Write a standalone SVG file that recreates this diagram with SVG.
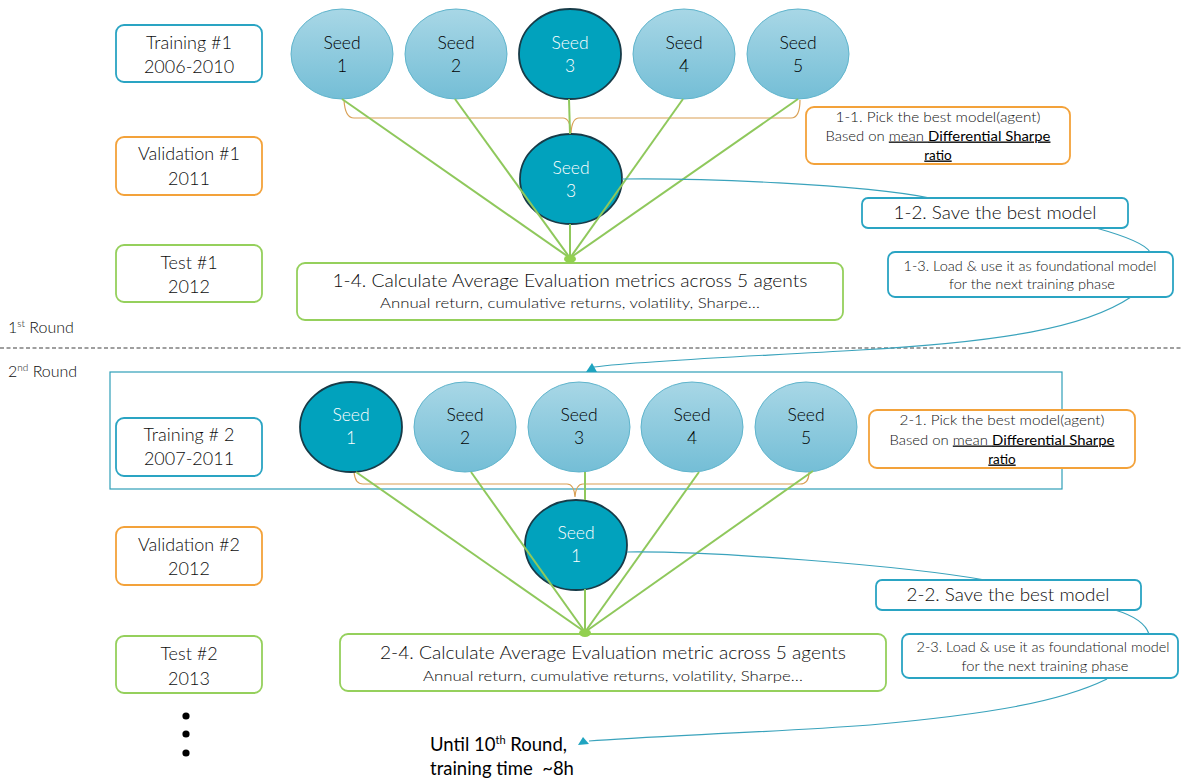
<svg xmlns="http://www.w3.org/2000/svg" width="1181" height="778" viewBox="0 0 1181 778">
<defs>
<linearGradient id="gL" x1="0" y1="0" x2="0" y2="1">
<stop offset="0" stop-color="#a8d7e6"/>
<stop offset="1" stop-color="#74bed6"/>
</linearGradient>
</defs>
<style>
text{font-family:Lato,"Liberation Sans",sans-serif;font-weight:300}
.lbl{font-size:18px;fill:#0d0d0d;text-anchor:middle}
.box{fill:#fff;stroke-width:1.8}
.teal{stroke:#2aa4c3}
.orange{stroke:#f3a23a}
.green{stroke:#95d05c}
.seedL{fill:url(#gL);stroke:#5fb4cc;stroke-width:1}
.seedD{fill:#01a2bd;stroke:#173b48;stroke-width:1.8}
.st{font-size:17.5px;text-anchor:middle;fill:#000}
.stD{font-size:17.5px;text-anchor:middle;fill:#ffffff}
.small{font-size:13.5px;fill:#111;text-anchor:middle}
.gl{stroke:#8fc85c;stroke-width:2;fill:none}
.brace{stroke:#d9a055;stroke-width:1.2;fill:none}
.conn{stroke:#3aa3bc;stroke-width:1.2;fill:none}
.arr{fill:#1fa4c0}
.u{text-decoration:underline}
.b{fill:#000;font-weight:400}
.reg{font-weight:400}
.big{fill:#0d0d0d}
</style>

<!-- round separator -->
<g id="separator">
<line x1="0" y1="348" x2="1181" y2="348" stroke="#808080" stroke-width="1.5" stroke-dasharray="4 2.5"/>
<text x="8" y="333" font-size="16" fill="#0d0d0d">1<tspan font-size="10" dy="-6">st</tspan><tspan dy="6"> Round</tspan></text>
<text x="8" y="377" font-size="16" fill="#0d0d0d">2<tspan font-size="10" dy="-6">nd</tspan><tspan dy="6"> Round</tspan></text>
</g>

<g id="round2-frame">
<rect x="110" y="372" width="952" height="117" fill="none" stroke="#2f9fb8" stroke-width="1.2"/>
</g>

<!-- left labels -->
<g id="training1"><rect class="box teal" x="116" y="25" width="146" height="57" rx="8"/><text class="lbl" x="189" y="49">Training #1</text><text class="lbl" x="189" y="73">2006-2010</text></g>
<g id="validation1"><rect class="box orange" x="116" y="137" width="146" height="58" rx="8"/><text class="lbl" x="189" y="160">Validation #1</text><text class="lbl" x="189" y="185">2011</text></g>
<g id="test1"><rect class="box green" x="116" y="245" width="146" height="57" rx="8"/><text class="lbl" x="189" y="269">Test #1</text><text class="lbl" x="189" y="293">2012</text></g>
<g id="training2"><rect class="box teal" x="116" y="418" width="146" height="58" rx="8"/><text class="lbl" x="189" y="441">Training # 2</text><text class="lbl" x="189" y="465">2007-2011</text></g>
<g id="validation2"><rect class="box orange" x="116" y="527" width="146" height="58" rx="8"/><text class="lbl" x="189" y="551">Validation #2</text><text class="lbl" x="189" y="575">2012</text></g>
<g id="test2"><rect class="box green" x="116" y="636" width="146" height="57" rx="8"/><text class="lbl" x="189" y="660">Test #2</text><text class="lbl" x="189" y="685">2013</text></g>

<!-- braces -->
<g id="braces">
<path class="brace" d="M344,100 Q345,118 354,118 L563,118 Q570,118 571,133 Q572,118 579,118 L791,118 Q800,118 800,100"/>
<path class="brace" d="M354,472 Q355,484 363,484 L567,484 Q574,484 575,497 Q576,484 583,484 L800,484 Q809,484 809,472"/>
</g>

<!-- row 1 seeds -->
<g id="r1-seed1"><ellipse class="seedL" cx="342" cy="54" rx="51" ry="45"/><text class="st" x="342" y="49">Seed</text><text class="st" x="342" y="72">1</text></g>
<g id="r1-seed2"><ellipse class="seedL" cx="456" cy="54" rx="51" ry="45"/><text class="st" x="456" y="49">Seed</text><text class="st" x="456" y="72">2</text></g>
<g id="r1-seed3"><ellipse class="seedD" cx="570" cy="54" rx="51" ry="45"/><text class="stD" x="570" y="49">Seed</text><text class="stD" x="570" y="72">3</text></g>
<g id="r1-seed4"><ellipse class="seedL" cx="684" cy="54" rx="51" ry="45"/><text class="st" x="684" y="49">Seed</text><text class="st" x="684" y="72">4</text></g>
<g id="r1-seed5"><ellipse class="seedL" cx="798" cy="54" rx="51" ry="45"/><text class="st" x="798" y="49">Seed</text><text class="st" x="798" y="72">5</text></g>
<g id="r1-best"><ellipse class="seedD" cx="571" cy="179" rx="51" ry="45"/><text class="stD" x="571" y="174">Seed</text><text class="stD" x="571" y="197">3</text></g>

<!-- row 2 seeds -->
<g id="r2-seed1"><ellipse class="seedD" cx="351" cy="427" rx="51" ry="45"/><text class="stD" x="351" y="421">Seed</text><text class="stD" x="351" y="444">1</text></g>
<g id="r2-seed2"><ellipse class="seedL" cx="465" cy="427" rx="51" ry="45"/><text class="st" x="465" y="421">Seed</text><text class="st" x="465" y="444">2</text></g>
<g id="r2-seed3"><ellipse class="seedL" cx="579" cy="427" rx="51" ry="45"/><text class="st" x="579" y="421">Seed</text><text class="st" x="579" y="444">3</text></g>
<g id="r2-seed4"><ellipse class="seedL" cx="692" cy="427" rx="51" ry="45"/><text class="st" x="692" y="421">Seed</text><text class="st" x="692" y="444">4</text></g>
<g id="r2-seed5"><ellipse class="seedL" cx="806" cy="427" rx="51" ry="45"/><text class="st" x="806" y="421">Seed</text><text class="st" x="806" y="444">5</text></g>
<g id="r2-best"><ellipse class="seedD" cx="576" cy="545" rx="51" ry="45"/><text class="stD" x="576" y="539">Seed</text><text class="stD" x="576" y="562">1</text></g>

<!-- process boxes -->
<g id="step1-4"><rect class="box green" x="297" y="263" width="546" height="57" rx="8"/>
<text class="big" x="570" y="287" font-size="18" text-anchor="middle" textLength="475" lengthAdjust="spacingAndGlyphs">1-4. Calculate Average Evaluation metrics across 5 agents</text>
<text class="big" x="570" y="308" font-size="14.5" text-anchor="middle" textLength="380" lengthAdjust="spacingAndGlyphs">Annual return, cumulative returns, volatility, Sharpe…</text></g>
<g id="step2-4"><rect class="box green" x="340" y="634" width="546" height="57" rx="8"/>
<text class="big" x="613" y="659" font-size="18" text-anchor="middle" textLength="466" lengthAdjust="spacingAndGlyphs">2-4. Calculate Average Evaluation metric across 5 agents</text>
<text class="big" x="613" y="681" font-size="14.5" text-anchor="middle" textLength="380" lengthAdjust="spacingAndGlyphs">Annual return, cumulative returns, volatility, Sharpe…</text></g>

<g id="step1-1"><rect class="box orange" x="806" y="107" width="264" height="57" rx="8"/>
<text class="small" x="938" y="121.5" textLength="205" lengthAdjust="spacingAndGlyphs">1-1. Pick the best model(agent)</text>
<text class="small" x="938" y="140.5" textLength="225" lengthAdjust="spacingAndGlyphs">Based on <tspan class="u">mean </tspan><tspan class="u b">Differential Sharpe</tspan></text>
<text class="small b u" x="938" y="159.5">ratio</text></g>
<g id="step2-1"><rect class="box orange" x="869" y="410" width="266" height="58" rx="8"/>
<text class="small" x="1002" y="424.5" textLength="205" lengthAdjust="spacingAndGlyphs">2-1. Pick the best model(agent)</text>
<text class="small" x="1002" y="444.5" textLength="225" lengthAdjust="spacingAndGlyphs">Based on <tspan class="u">mean </tspan><tspan class="u b">Differential Sharpe</tspan></text>
<text class="small b u" x="1002" y="463.5">ratio</text></g>

<g id="step1-2"><rect class="box teal" x="862" y="198" width="266" height="30" rx="6"/>
<text class="big" x="995" y="219" font-size="18" text-anchor="middle" textLength="203" lengthAdjust="spacingAndGlyphs">1-2. Save the best model</text></g>
<g id="step2-2"><rect class="box teal" x="876" y="580" width="265" height="30" rx="6"/>
<text class="big" x="1008" y="601" font-size="18" text-anchor="middle" textLength="203" lengthAdjust="spacingAndGlyphs">2-2. Save the best model</text></g>

<g id="step1-3"><rect class="box teal" x="888" y="252" width="285" height="45" rx="7"/>
<text class="small" x="1030" y="270.5" textLength="253" lengthAdjust="spacingAndGlyphs">1-3. Load &amp; use it as foundational model</text>
<text class="small" x="1032" y="288.5" textLength="166" lengthAdjust="spacingAndGlyphs">for the next training phase</text></g>
<g id="step2-3"><rect class="box teal" x="902" y="634" width="276" height="44" rx="7"/>
<text class="small" x="1043" y="651.5" textLength="253" lengthAdjust="spacingAndGlyphs">2-3. Load &amp; use it as foundational model</text>
<text class="small" x="1045" y="670.5" textLength="167" lengthAdjust="spacingAndGlyphs">for the next training phase</text></g>

<!-- connectors -->
<g id="connectors">
<line class="gl" x1="342" y1="99" x2="570" y2="258"/>
<line class="gl" x1="455" y1="99" x2="570" y2="258"/>
<line class="gl" x1="569" y1="99" x2="570" y2="134"/>
<line class="gl" x1="570" y1="224" x2="570" y2="258"/>
<line class="gl" x1="683" y1="99" x2="570" y2="258"/>
<line class="gl" x1="798" y1="99" x2="570" y2="258"/>
<ellipse cx="570" cy="259" rx="6" ry="4" fill="#92d050"/>

<line class="gl" x1="356" y1="472" x2="585" y2="632"/>
<line class="gl" x1="471" y1="472" x2="585" y2="632"/>
<line class="gl" x1="585" y1="472" x2="585" y2="500"/>
<line class="gl" x1="585" y1="589" x2="585" y2="632"/>
<line class="gl" x1="699" y1="472" x2="585" y2="632"/>
<line class="gl" x1="813" y1="471" x2="585" y2="632"/>
<ellipse cx="585" cy="633" rx="6" ry="4" fill="#92d050"/>

<path class="conn" d="M622,179 C700,178 860,184 930,198"/>
<path class="conn" d="M1096,228 C1125,236 1145,244 1150,252"/>
<path class="conn" d="M1131,297 C1085,328 1000,342 860,350 C760,356 650,360 594,367"/>
<polygon class="arr" points="586,372 597,372 592,363"/>

<path class="conn" d="M627,552 C710,551 900,565 985,580"/>
<path class="conn" d="M1115,610 C1135,616 1146,625 1149,634"/>
<path class="conn" d="M1107,679 C1060,702 990,714 870,725 C760,733 650,736 589,741"/>
<polygon class="arr" points="578,745 589,744 583,737"/>
</g>

<g id="ellipsis">
<circle cx="186" cy="716" r="3.6" fill="#000"/>
<circle cx="186" cy="734" r="3.6" fill="#000"/>
<circle cx="186" cy="753" r="3.6" fill="#000"/>
</g>

<g id="until">
<text class="reg" x="430" y="751" font-size="18.5" fill="#000">Until 10<tspan font-size="11" dy="-7">th</tspan><tspan dy="7"> Round,</tspan></text>
<text class="reg" x="430" y="775" font-size="18.5" fill="#000" xml:space="preserve">training time  ~8h</text>
</g>
</svg>
